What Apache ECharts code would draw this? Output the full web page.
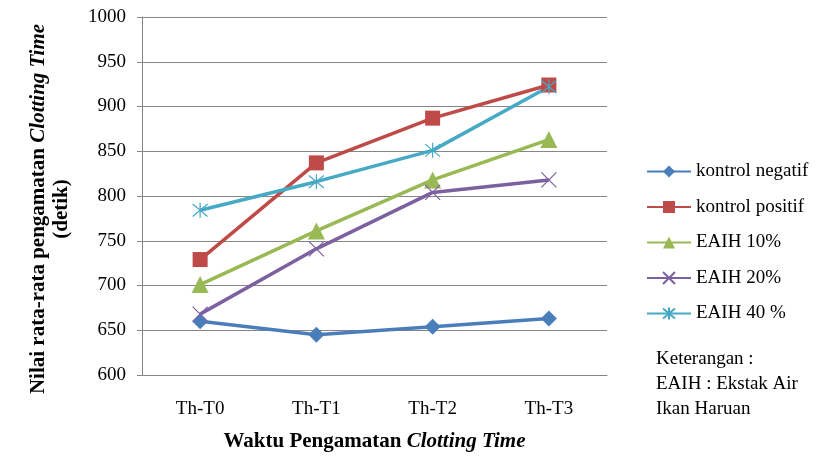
<!DOCTYPE html>
<html>
	<head>
		<meta charset="utf-8">
		<title>Clotting Time</title>
		<script src="https://cdn.jsdelivr.net/npm/echarts@6/dist/echarts.min.js"></script>
	</head>
	<body style="margin:0">
		<div id="box" style="width: 825px;height: 457px;"></div>
		<script>
			var categories = ['Th-T0', 'Th-T1', 'Th-T2', 'Th-T3']
			var kontrolNegatif = [660, 645, 654, 663]
			var kontrolPositif = [729, 837, 887, 924]
			var eaih10 = [701, 761, 818, 863]
			var eaih20 = [668, 741, 804, 818]
			var eaih40 = [784, 816, 851, 922]

			var font = '"Liberation Serif", "Times New Roman", serif'
			var xMark = 'path://M0,0 L10,10 M10,0 L0,10'
			var starMark = 'path://M0,0 L10,10 M10,0 L0,10 M5,-1 L5,11'

			function line(name, data, color, symbol, size, hollow) {
				return {
					name: name,
					type: 'line',
					data: data,
					symbol: symbol,
					symbolSize: size,
					lineStyle: { color: color, width: 3.5 },
					itemStyle: hollow
						? { color: 'none', borderColor: color, borderWidth: 1.2 }
						: { color: color },
					emphasis: { disabled: true }
				}
			}

			var mCharts = echarts.init(document.querySelector('#box'))
			var option = {
				animation: false,
				textStyle: { fontFamily: font, color: '#000' },
				grid: { left: 142, right: 218, top: 17, bottom: 82, containLabel: false, outerBoundsMode: 'none' },
				legend: {
					orient: 'vertical',
					left: 641,
					top: 157,
					itemWidth: 44,
					itemHeight: 15,
					itemGap: 16.5,
					textStyle: { fontFamily: font, fontSize: 19, color: '#000' },
					data: ['kontrol negatif', 'kontrol positif', 'EAIH 10%', 'EAIH 20%', 'EAIH 40 %']
				},
				xAxis: {
					type: 'category',
					data: categories,
					axisLine: { lineStyle: { color: '#868686' } },
					axisTick: { alignWithLabel: false, length: 5, lineStyle: { color: '#868686' } },
					axisLabel: { fontFamily: font, fontSize: 19, color: '#000', margin: 25 },
					name: '{b|Waktu Pengamatan }{bi|Clotting Time}',
					nameLocation: 'middle',
					nameGap: 56,
					nameTextStyle: {
						rich: {
							b: { fontFamily: font, fontSize: 21, fontWeight: 'bold', color: '#000' },
							bi: { fontFamily: font, fontSize: 21, fontWeight: 'bold', fontStyle: 'italic', color: '#000' }
						}
					}
				},
				yAxis: {
					type: 'value',
					min: 600,
					max: 1000,
					interval: 50,
					axisLine: { show: true, lineStyle: { color: '#868686' } },
					axisTick: { show: true, length: 5, inside: false, lineStyle: { color: '#868686' } },
					splitLine: { lineStyle: { color: '#868686', width: 1 } },
					axisLabel: {
						fontFamily: font, fontSize: 19, color: '#000', margin: 16,
						formatter: function (v) { return String(v) }
					},
					name: '{b|Nilai rata-rata pengamatan }{bi|Clotting Time}\n{b|(detik)}',
					nameLocation: 'middle',
					nameRotate: 90,
					nameGap: 69,
					nameTextStyle: {
						align: 'center',
						lineHeight: 23,
						padding: [0, 26, 0, 0],
						rich: {
							b: { fontFamily: font, fontSize: 21, fontWeight: 'bold', color: '#000', lineHeight: 23 },
							bi: { fontFamily: font, fontSize: 21, fontWeight: 'bold', fontStyle: 'italic', color: '#000', lineHeight: 23 }
						}
					}
				},
				graphic: [{
					type: 'text',
					left: 656,
					top: 347,
					style: {
						text: 'Keterangan :\nEAIH : Ekstak Air\nIkan Haruan',
						font: '19px ' + font,
						lineHeight: 25,
						fill: '#000'
					}
				}],
				series: [
					line('kontrol negatif', kontrolNegatif, '#4a7ebb', 'diamond', 16, false),
					line('kontrol positif', kontrolPositif, '#be4b48', 'rect', 15, false),
					line('EAIH 10%', eaih10, '#98b954', 'triangle', 17, false),
					line('EAIH 20%', eaih20, '#7d60a0', xMark, 15, true),
					line('EAIH 40 %', eaih40, '#46aac5', starMark, 15, true)
				]
			}
			mCharts.setOption(option)
		</script>
	</body>
</html>
